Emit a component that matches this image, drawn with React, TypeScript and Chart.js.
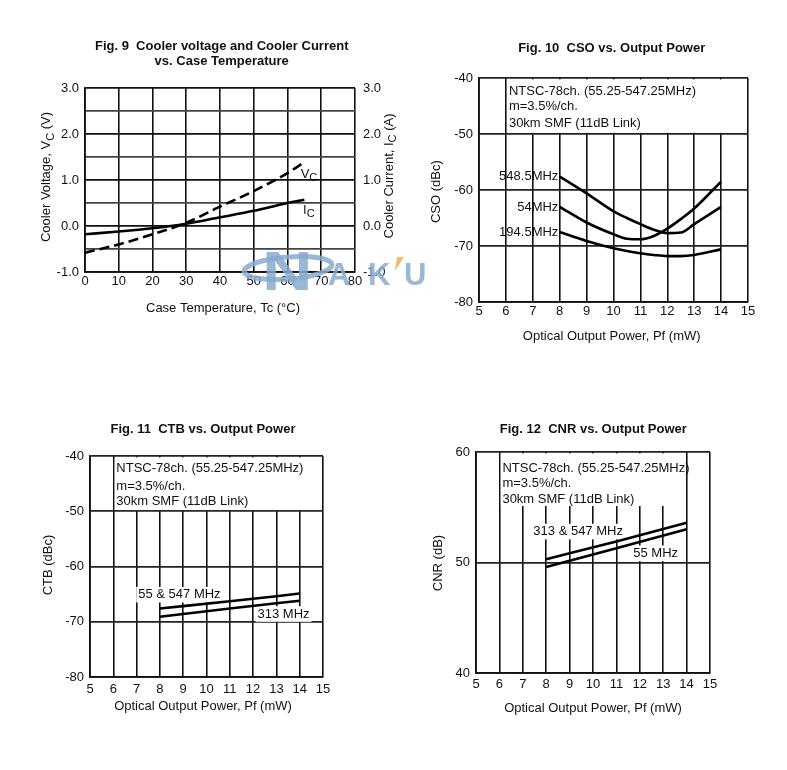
import React, { useEffect, useRef } from 'react';
import { Chart, registerables } from 'chart.js';
Chart.register(...registerables);

const W = 787;
const H = 770;
const FONT = '"Liberation Sans", Arial, Helvetica, sans-serif';
const INK = '#111';

// ---------- Fig. 9 data ----------
const caseTemp = [0, 10, 20, 30, 40, 50, 60, 65];
const coolerVoltage = [-0.58, -0.4, -0.18, 0.07, 0.42, 0.76, 1.15, 1.39];
const coolerCurrent = [-0.18, -0.12, -0.05, 0.05, 0.19, 0.33, 0.5, 0.57];

// ---------- Fig. 10 data ----------
const csoPower = [8, 9, 10, 10.5, 11, 11.5, 12, 12.5, 13, 14];
const cso548 = [-57.6, -60.6, -63.8, -65.0, -66.1, -67.1, -67.7, -67.6, -66.1, -63.0];
const cso54 = [-63.0, -65.8, -67.9, -68.7, -68.8, -68.2, -66.9, -65.2, -63.3, -58.5];
const cso194 = [-67.5, -69.1, -70.4, -70.9, -71.3, -71.6, -71.8, -71.8, -71.6, -70.6];
const csoLabels = ['548.5MHz', '54MHz', '194.5MHz'];

// ---------- Fig. 11 data ----------
const ctbPower = [8, 11, 14];
const ctb55and547 = [-67.6, -66.3, -64.9];
const ctb313 = [-69.1, -67.6, -66.2];
const ctbLabels = ['55 & 547 MHz', '313 MHz'];

// ---------- Fig. 12 data ----------
const cnrPower = [8, 11, 14];
const cnr313and547 = [50.3, 51.9, 53.6];
const cnr55 = [49.6, 51.3, 53.0];
const cnrLabels = ['313 & 547 MHz', '55 MHz'];

const noteLines = ['NTSC-78ch. (55.25-547.25MHz)', 'm=3.5%/ch.', '30km SMF (11dB Link)'];

type Part = { t: string; sub?: boolean };
type Align = 'left' | 'center' | 'right';

function drawRich(
  ctx: CanvasRenderingContext2D,
  parts: Part[],
  x: number,
  y: number,
  rot: number,
  size: number,
  align: Align,
  bold = false,
  bg = false
) {
  ctx.save();
  ctx.translate(x, y);
  ctx.rotate(rot);
  const fonts = parts.map(
    (p) => `${bold ? 'bold ' : ''}${p.sub ? Math.round(size * 0.82) : size}px ${FONT}`
  );
  let total = 0;
  const ws = parts.map((p, i) => {
    ctx.font = fonts[i];
    const w = ctx.measureText(p.t).width;
    total += w;
    return w;
  });
  let cx = align === 'left' ? 0 : align === 'right' ? -total : -total / 2;
  if (bg) {
    ctx.fillStyle = '#fff';
    ctx.fillRect(cx - 2, -size * 0.6, total + 4, size * 1.2);
  }
  ctx.fillStyle = INK;
  ctx.textBaseline = 'middle';
  ctx.textAlign = 'left';
  parts.forEach((p, i) => {
    ctx.font = fonts[i];
    ctx.fillText(p.t, cx, p.sub ? size * 0.3 : 0);
    cx += ws[i];
  });
  ctx.restore();
}

function drawWatermark(ctx: CanvasRenderingContext2D) {
  ctx.save();
  ctx.globalAlpha = 0.85;
  const blue = '#87aad0';
  ctx.strokeStyle = blue;
  ctx.lineWidth = 5;
  ctx.beginPath();
  ctx.ellipse(288, 268, 44, 11, -0.08, 0, Math.PI * 2);
  ctx.stroke();
  ctx.fillStyle = blue;
  ctx.textBaseline = 'alphabetic';
  ctx.textAlign = 'left';
  ctx.font = `bold 56px ${FONT}`;
  ctx.save();
  ctx.translate(262, 290);
  ctx.scale(1.25, 1);
  ctx.fillText('N', 0, 0);
  ctx.restore();
  ctx.font = `bold 31px ${FONT}`;
  const letters = ['A', 'K', 'U'];
  const lx = [328, 368, 404];
  letters.forEach((ch, i) => ctx.fillText(ch, lx[i], 285));
  ctx.fillStyle = '#f0b050';
  ctx.beginPath();
  ctx.moveTo(397, 257);
  ctx.lineTo(404, 257);
  ctx.lineTo(395, 271);
  ctx.closePath();
  ctx.fill();
  ctx.restore();
}

function line(xs: number[], ys: number[], extra: any = {}) {
  return {
    data: xs.map((x, i) => ({ x, y: ys[i] })),
    borderColor: '#000',
    borderWidth: 2.6,
    pointRadius: 0,
    fill: false,
    cubicInterpolationMode: 'monotone',
    ...extra,
  };
}

type Lbl = { parts: Part[]; x: number; y: number; align: Align; bg?: boolean };
type Spec = {
  area: { l: number; t: number; r: number; b: number };
  xr: [number, number, number];
  yr: [number, number, number];
  yFmt?: (v: number) => string;
  yGrid?: (v: number) => string;
  xTickPad: number;
  y2?: boolean;
  datasets: any[];
  titles: { t: string; x: number; y: number }[];
  xTitle: { parts: Part[]; x: number; y: number };
  yTitles: { parts: Part[]; x: number; y: number }[];
  box?: { x0: number; x1: number; yb: number; dy: number[] };
  labels: Lbl[];
  watermark?: boolean;
};

const isInt = (v: number) => Math.abs(v - Math.round(v)) < 1e-6;

const specs: Spec[] = [
  {
    area: { l: 85, t: 88, r: 355, b: 272 },
    xr: [0, 80, 10],
    yr: [-1, 3, 0.5],
    yFmt: (v) => (isInt(v) ? v.toFixed(1) : ''),
    yGrid: (v) => (isInt(v) ? '#111' : '#444'),
    xTickPad: 2,
    y2: true,
    datasets: [
      line(caseTemp, coolerVoltage, { borderDash: [10, 5], yAxisID: 'y' }),
      line(caseTemp, coolerCurrent, { yAxisID: 'y2' }),
    ],
    titles: [
      { t: 'Fig. 9  Cooler voltage and Cooler Current', x: 221.7, y: 46.7 },
      { t: 'vs. Case Temperature', x: 221.7, y: 61.7 },
    ],
    xTitle: { parts: [{ t: 'Case Temperature, Tc (°C)' }], x: 223, y: 308.3 },
    yTitles: [
      { parts: [{ t: 'Cooler Voltage, V' }, { t: 'C', sub: true }, { t: ' (V)' }], x: 46.7, y: 177 },
      { parts: [{ t: 'Cooler Current, I' }, { t: 'C', sub: true }, { t: ' (A)' }], x: 389, y: 176 },
    ],
    labels: [
      { parts: [{ t: 'V' }, { t: 'C', sub: true }], x: 63.9, y: 1.13, align: 'left' },
      { parts: [{ t: 'I' }, { t: 'C', sub: true }], x: 64.6, y: 0.34, align: 'left' },
    ],
    watermark: true,
  },
  {
    area: { l: 479, t: 78, r: 748, b: 302 },
    xr: [5, 15, 1],
    yr: [-80, -40, 10],
    xTickPad: 2,
    datasets: [line(csoPower, cso548), line(csoPower, cso54), line(csoPower, cso194)],
    titles: [{ t: 'Fig. 10  CSO vs. Output Power', x: 611.7, y: 48 }],
    xTitle: { parts: [{ t: 'Optical Output Power, Pf (mW)' }], x: 611.7, y: 336.7 },
    yTitles: [{ parts: [{ t: 'CSO (dBc)' }], x: 436.7, y: 191.7 }],
    box: { x0: 6, x1: 15, yb: -50, dy: [13.4, 28.6, 45] },
    labels: [
      { parts: [{ t: csoLabels[0] }], x: 7.95, y: -57.6, align: 'right' },
      { parts: [{ t: csoLabels[1] }], x: 7.95, y: -63.2, align: 'right' },
      { parts: [{ t: csoLabels[2] }], x: 7.95, y: -67.5, align: 'right' },
    ],
  },
  {
    area: { l: 90, t: 456, r: 323, b: 677 },
    xr: [5, 15, 1],
    yr: [-80, -40, 10],
    xTickPad: 5,
    datasets: [line(ctbPower, ctb55and547), line(ctbPower, ctb313)],
    titles: [{ t: 'Fig. 11  CTB vs. Output Power', x: 203, y: 429 }],
    xTitle: { parts: [{ t: 'Optical Output Power, Pf (mW)' }], x: 203, y: 706.7 },
    yTitles: [{ parts: [{ t: 'CTB (dBc)' }], x: 48.3, y: 565 }],
    box: { x0: 6, x1: 15, yb: -50, dy: [12.7, 30, 45.3] },
    labels: [
      { parts: [{ t: ctbLabels[0] }], x: 7.07, y: -65.1, align: 'left', bg: true },
      { parts: [{ t: ctbLabels[1] }], x: 12.19, y: -68.6, align: 'left', bg: true },
    ],
  },
  {
    area: { l: 476, t: 452, r: 710, b: 673 },
    xr: [5, 15, 1],
    yr: [40, 60, 10],
    xTickPad: 4,
    datasets: [line(cnrPower, cnr313and547), line(cnrPower, cnr55)],
    titles: [{ t: 'Fig. 12  CNR vs. Output Power', x: 593.3, y: 429 }],
    xTitle: { parts: [{ t: 'Optical Output Power, Pf (mW)' }], x: 593, y: 708.3 },
    yTitles: [{ parts: [{ t: 'CNR (dB)' }], x: 438.3, y: 563 }],
    box: { x0: 6, x1: 14, yb: 55, dy: [16.6, 31.6, 47.3] },
    labels: [
      { parts: [{ t: cnrLabels[0] }], x: 7.45, y: 52.8, align: 'left', bg: true },
      { parts: [{ t: cnrLabels[1] }], x: 11.72, y: 50.83, align: 'left', bg: true },
    ],
  },
];

function makeConfig(s: Spec): any {
  const { area } = s;
  const tickFont = { family: FONT, size: 13 };
  const AX_W = 40;
  const AX_H = 30;
  const yTicks: any = { stepSize: s.yr[2], padding: 6, color: INK, font: tickFont };
  if (s.yFmt) yTicks.callback = (v: any) => s.yFmt!(Number(v));
  const scales: any = {
    x: {
      type: 'linear',
      position: 'bottom',
      min: s.xr[0],
      max: s.xr[1],
      ticks: { stepSize: s.xr[2], autoSkip: false, maxRotation: 0, padding: s.xTickPad, color: INK, font: tickFont },
      grid: { color: '#111', lineWidth: 1.6, drawTicks: false },
      border: { color: '#111', width: 1.8 },
      afterFit: (sc: any) => {
        sc.height = AX_H;
      },
    },
    y: {
      type: 'linear',
      position: 'left',
      min: s.yr[0],
      max: s.yr[1],
      ticks: yTicks,
      grid: {
        color: s.yGrid ? (c: any) => s.yGrid!(c.tick ? c.tick.value : 0) : '#222',
        lineWidth: 1.8,
        drawTicks: false,
      },
      border: { color: '#111', width: 1.8 },
      afterFit: (sc: any) => {
        sc.width = AX_W;
      },
    },
  };
  if (s.y2) {
    const y2Ticks: any = { stepSize: s.yr[2], padding: 8, color: INK, font: tickFont };
    if (s.yFmt) y2Ticks.callback = (v: any) => s.yFmt!(Number(v));
    scales.y2 = {
      type: 'linear',
      position: 'right',
      min: s.yr[0],
      max: s.yr[1],
      ticks: y2Ticks,
      grid: { display: false, drawTicks: false },
      border: { display: false },
      afterFit: (sc: any) => {
        sc.width = AX_W;
      },
    };
  }

  const deco = {
    id: 'deco',
    beforeDatasetsDraw(chart: any) {
      const { ctx, chartArea: ca, scales: sc } = chart;
      const xs = sc.x;
      const ys = sc.y;
      if (s.box) {
        const b = s.box;
        const xl = xs.getPixelForValue(b.x0);
        const xr = xs.getPixelForValue(b.x1);
        const yb = ys.getPixelForValue(b.yb);
        ctx.save();
        ctx.fillStyle = '#fff';
        ctx.fillRect(xl + 1.4, ca.top + 1.4, xr - xl - 2.8, yb - ca.top - 2.6);
        ctx.fillStyle = INK;
        ctx.font = `13px ${FONT}`;
        ctx.textBaseline = 'middle';
        ctx.textAlign = 'left';
        noteLines.forEach((t, i) => ctx.fillText(t, xl + 3, ca.top + b.dy[i]));
        ctx.restore();
      }
      s.labels.forEach((l) =>
        drawRich(ctx, l.parts, xs.getPixelForValue(l.x), ys.getPixelForValue(l.y), 0, 13, l.align, false, !!l.bg)
      );
    },
    afterDraw(chart: any) {
      const ctx = chart.ctx as CanvasRenderingContext2D;
      s.titles.forEach((t) => drawRich(ctx, [{ t: t.t }], t.x, t.y, 0, 13, 'center', true));
      drawRich(ctx, s.xTitle.parts, s.xTitle.x, s.xTitle.y, 0, 13, 'center');
      s.yTitles.forEach((t) => drawRich(ctx, t.parts, t.x, t.y, -Math.PI / 2, 13, 'center'));
      if (s.watermark) drawWatermark(ctx);
    },
  };

  return {
    type: 'line',
    data: { datasets: s.datasets },
    options: {
      responsive: false,
      animation: false,
      events: [],
      layout: {
        padding: {
          left: area.l - AX_W,
          top: area.t,
          right: W - area.r - (s.y2 ? AX_W : 0),
          bottom: H - area.b - AX_H,
        },
      },
      plugins: { legend: { display: false }, tooltip: { enabled: false }, title: { display: false } },
      scales,
    },
    plugins: [deco],
  };
}

function Panel({ spec, z }: { spec: Spec; z: number }) {
  const ref = useRef<HTMLCanvasElement>(null);
  useEffect(() => {
    const chart = new Chart(ref.current as HTMLCanvasElement, makeConfig(spec));
    return () => chart.destroy();
  }, [spec]);
  return (
    <canvas
      ref={ref}
      width={W}
      height={H}
      style={{ position: 'absolute', left: 0, top: 0, width: W, height: H, zIndex: z }}
    />
  );
}

export default function App() {
  return (
    <div
      style={{
        position: 'fixed',
        left: 0,
        top: 0,
        width: W,
        height: H,
        background: '#fff',
        overflow: 'hidden',
      }}
    >
      {specs.map((s, i) => (
        <Panel key={i} spec={s} z={i === 0 ? 2 : 1} />
      ))}
    </div>
  );
}
